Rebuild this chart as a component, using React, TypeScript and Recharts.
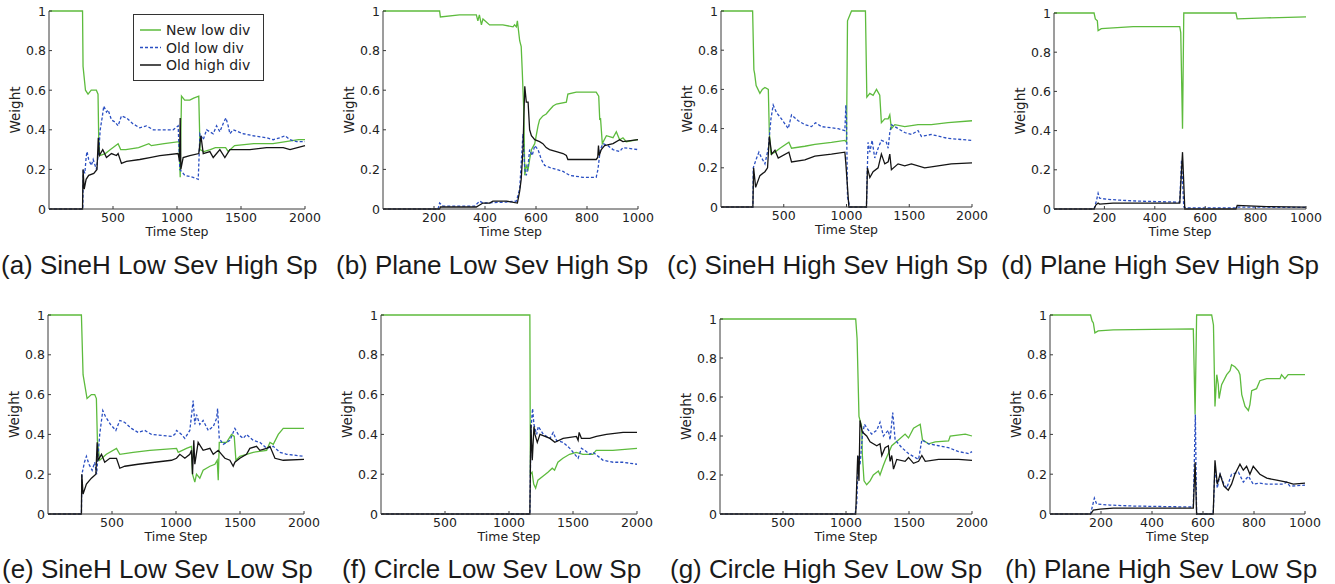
import React from "react";
import { LineChart, Line, XAxis, YAxis } from "recharts";

type Pt = [number, number];

const GREEN = "#5dbb3d";
const BLUE = "#2a4fc2";
const BLACK = "#141414";
const AXIS = "#3a3a3a";
const TICK_FONT = "'DejaVu Sans', sans-serif";

const Y_TICKS = [0, 0.2, 0.4, 0.6, 0.8, 1];
const X_TICKS_2000 = [500, 1000, 1500, 2000];
const X_TICKS_1000 = [200, 400, 600, 800, 1000];

const SERIES_NAMES = ["New low div", "Old low div", "Old high div"];

// (a) SineH Low Sev High Sp
const A_NEW: Pt[] = [[0,1],[262,1],[266,0.72],[285,0.6],[305,0.58],[330,0.6],[370,0.6],[383,0.58],[388,0.37],[396,0.27],[440,0.28],[480,0.3],[540,0.33],[560,0.3],[600,0.3],[700,0.31],[780,0.33],[800,0.32],[900,0.33],[1015,0.34],[1025,0.16],[1035,0.57],[1060,0.55],[1100,0.55],[1130,0.56],[1170,0.57],[1180,0.3],[1210,0.29],[1260,0.3],[1300,0.31],[1380,0.31],[1400,0.29],[1450,0.32],[1600,0.33],[1750,0.33],[1850,0.34],[1950,0.35],[2000,0.35]];
const A_OLD_LOW: Pt[] = [[0,0],[264,0],[268,0.2],[280,0.18],[290,0.26],[297,0.29],[310,0.25],[331,0.22],[345,0.25],[370,0.2],[390,0.3],[400,0.4],[415,0.46],[428,0.52],[449,0.49],[462,0.5],[488,0.45],[514,0.44],[540,0.42],[566,0.47],[605,0.46],[657,0.43],[709,0.41],[761,0.42],[814,0.4],[970,0.4],[1009,0.42],[1022,0.2],[1061,0.17],[1126,0.16],[1166,0.15],[1179,0.38],[1205,0.35],[1231,0.4],[1283,0.38],[1309,0.42],[1335,0.39],[1366,0.44],[1382,0.46],[1400,0.42],[1413,0.38],[1439,0.4],[1518,0.38],[1596,0.37],[1700,0.36],[1752,0.35],[1804,0.36],[1844,0.37],[1883,0.35],[1935,0.34],[2000,0.34]];
const A_OLD_HIGH: Pt[] = [[0,0],[262,0],[266,0.2],[275,0.1],[290,0.15],[310,0.17],[350,0.18],[375,0.2],[385,0.36],[393,0.27],[420,0.3],[449,0.26],[488,0.28],[527,0.27],[540,0.28],[566,0.23],[605,0.24],[709,0.25],[788,0.26],[866,0.27],[1009,0.28],[1020,0.24],[1025,0.46],[1030,0.2],[1048,0.26],[1100,0.27],[1170,0.28],[1187,0.37],[1205,0.28],[1257,0.29],[1283,0.26],[1335,0.3],[1374,0.26],[1413,0.3],[1570,0.3],[1700,0.31],[1830,0.31],[1883,0.3],[2000,0.32]];

// (b) Plane Low Sev High Sp
const B_NEW: Pt[] = [[0,1],[222,1],[225,0.97],[300,0.98],[366,0.98],[372,0.95],[378,0.98],[386,0.93],[392,0.96],[418,0.93],[470,0.93],[510,0.92],[516,0.93],[523,0.92],[527,0.95],[536,0.85],[542,0.82],[546,0.7],[552,0.5],[556,0.17],[562,0.22],[569,0.2],[575,0.25],[582,0.3],[595,0.33],[608,0.42],[614,0.45],[627,0.47],[640,0.48],[653,0.5],[667,0.52],[680,0.53],[719,0.54],[725,0.58],[758,0.59],[836,0.59],[846,0.57],[850,0.45],[853,0.46],[860,0.33],[876,0.37],[902,0.36],[915,0.39],[928,0.35],[941,0.36],[954,0.34],[1000,0.35]];
const B_OLD_LOW: Pt[] = [[0,0],[216,0],[222,0.03],[235,0.015],[360,0.015],[379,0.04],[392,0.03],[484,0.035],[523,0.04],[536,0.1],[549,0.38],[556,0.2],[562,0.17],[569,0.22],[575,0.3],[585,0.27],[595,0.32],[608,0.3],[621,0.25],[634,0.22],[653,0.21],[680,0.2],[706,0.19],[732,0.17],[784,0.16],[836,0.16],[843,0.2],[852,0.3],[863,0.33],[882,0.32],[902,0.3],[928,0.29],[941,0.31],[1000,0.3]];
const B_OLD_HIGH: Pt[] = [[0,0],[222,0],[225,0.01],[366,0.01],[379,0.02],[392,0.03],[418,0.03],[431,0.04],[484,0.04],[527,0.03],[536,0.09],[542,0.15],[549,0.3],[552,0.45],[556,0.62],[562,0.54],[569,0.54],[575,0.4],[582,0.37],[595,0.35],[614,0.34],[627,0.33],[640,0.31],[653,0.3],[680,0.29],[706,0.28],[719,0.27],[725,0.25],[836,0.25],[842,0.26],[845,0.32],[848,0.27],[856,0.3],[869,0.32],[902,0.33],[928,0.35],[941,0.34],[1000,0.35]];

// (c) SineH High Sev High Sp
const C_NEW: Pt[] = [[0,1],[252,1],[262,0.7],[268,0.68],[280,0.62],[310,0.58],[329,0.6],[350,0.61],[377,0.6],[385,0.38],[398,0.27],[430,0.28],[470,0.3],[541,0.33],[562,0.3],[668,0.31],[748,0.32],[880,0.33],[987,0.34],[1000,0.33],[1008,0.95],[1040,1],[1151,1],[1162,0.56],[1186,0.58],[1212,0.57],[1239,0.6],[1265,0.57],[1278,0.43],[1305,0.45],[1332,0.45],[1345,0.47],[1358,0.4],[1385,0.42],[1464,0.41],[1570,0.42],[1676,0.42],[1809,0.43],[2000,0.44]];
const C_OLD_LOW: Pt[] = [[0,0],[254,0],[257,0.2],[284,0.25],[302,0.28],[324,0.25],[350,0.22],[377,0.3],[398,0.45],[416,0.52],[443,0.48],[470,0.46],[536,0.4],[562,0.47],[615,0.44],[668,0.42],[721,0.41],[753,0.43],[801,0.41],[933,0.4],[987,0.39],[995,0.52],[1000,0.45],[1008,0.05],[1027,0],[1159,0],[1165,0.17],[1172,0.33],[1186,0.28],[1204,0.34],[1225,0.25],[1252,0.3],[1278,0.34],[1318,0.33],[1332,0.3],[1345,0.38],[1358,0.42],[1411,0.4],[1464,0.38],[1517,0.37],[1570,0.39],[1597,0.36],[1676,0.37],[1809,0.35],[2000,0.34]];
const C_OLD_HIGH: Pt[] = [[0,0],[254,0],[260,0.2],[276,0.1],[310,0.16],[350,0.18],[371,0.2],[385,0.36],[404,0.27],[430,0.29],[456,0.25],[541,0.28],[562,0.23],[668,0.24],[748,0.26],[880,0.27],[987,0.28],[995,0.22],[1019,0],[1159,0],[1167,0.2],[1186,0.15],[1212,0.18],[1252,0.2],[1278,0.27],[1305,0.22],[1332,0.23],[1345,0.27],[1358,0.19],[1411,0.22],[1464,0.21],[1517,0.22],[1623,0.2],[1729,0.21],[1835,0.22],[2000,0.225]];

// (d) Plane High Sev High Sp
const D_NEW: Pt[] = [[0,1],[159,1],[164,0.97],[172,0.96],[175,0.91],[188,0.92],[251,0.925],[314,0.93],[499,0.93],[503,0.9],[510,0.41],[515,1],[722,1],[727,0.97],[843,0.975],[1000,0.98]];
const D_OLD_LOW: Pt[] = [[0,0],[159,0],[168,0.04],[175,0.08],[181,0.055],[208,0.05],[261,0.045],[340,0.04],[499,0.035],[506,0.25],[515,0.01],[530,0.005],[722,0.005],[727,0.01],[1000,0.008]];
const D_OLD_HIGH: Pt[] = [[0,0],[159,0],[166,0.02],[175,0.03],[181,0.025],[234,0.03],[499,0.03],[510,0.29],[519,0],[722,0],[727,0.018],[843,0.012],[1000,0.01]];

// (e) SineH Low Sev Low Sp
const E_NEW: Pt[] = [[0,1],[261,1],[274,0.7],[305,0.58],[339,0.6],[365,0.6],[378,0.58],[386,0.37],[404,0.27],[456,0.3],[535,0.33],[561,0.3],[665,0.31],[796,0.32],[1004,0.33],[1017,0.31],[1082,0.33],[1121,0.34],[1129,0.2],[1147,0.16],[1160,0.2],[1186,0.18],[1212,0.22],[1265,0.24],[1304,0.25],[1322,0.27],[1330,0.17],[1338,0.36],[1395,0.36],[1434,0.4],[1455,0.39],[1468,0.27],[1499,0.29],[1551,0.3],[1603,0.31],[1708,0.32],[1734,0.36],[1760,0.35],[1799,0.4],[1838,0.43],[2000,0.43]];
const E_OLD_LOW: Pt[] = [[0,0],[261,0],[265,0.2],[285,0.26],[300,0.29],[320,0.25],[345,0.22],[365,0.26],[380,0.2],[392,0.3],[404,0.4],[428,0.52],[449,0.49],[488,0.45],[530,0.42],[561,0.47],[600,0.46],[652,0.43],[704,0.41],[756,0.42],[808,0.4],[965,0.39],[991,0.4],[1004,0.42],[1043,0.4],[1069,0.38],[1108,0.42],[1134,0.57],[1147,0.45],[1160,0.5],[1186,0.45],[1212,0.47],[1252,0.42],[1291,0.44],[1317,0.48],[1325,0.53],[1338,0.38],[1369,0.35],[1421,0.37],[1460,0.43],[1486,0.4],[1525,0.38],[1551,0.4],[1603,0.37],[1655,0.36],[1708,0.33],[1760,0.34],[1812,0.31],[1864,0.3],[2000,0.29]];
const E_OLD_HIGH: Pt[] = [[0,0],[261,0],[264,0.2],[274,0.1],[300,0.15],[339,0.18],[374,0.2],[384,0.36],[391,0.27],[418,0.3],[443,0.26],[483,0.28],[535,0.28],[561,0.23],[600,0.24],[704,0.25],[834,0.26],[965,0.27],[1004,0.28],[1030,0.3],[1069,0.28],[1108,0.3],[1121,0.32],[1129,0.2],[1139,0.37],[1147,0.25],[1173,0.36],[1212,0.32],[1265,0.33],[1291,0.3],[1330,0.32],[1356,0.3],[1382,0.28],[1421,0.27],[1447,0.24],[1460,0.26],[1499,0.28],[1551,0.3],[1577,0.33],[1629,0.34],[1655,0.32],[1708,0.33],[1734,0.34],[1773,0.28],[1838,0.27],[2000,0.275]];

// (f) Circle Low Sev Low Sp
const F_NEW: Pt[] = [[0,1],[1163,1],[1167,0.2],[1180,0.21],[1193,0.15],[1208,0.13],[1226,0.17],[1265,0.19],[1304,0.21],[1338,0.23],[1356,0.22],[1382,0.26],[1421,0.28],[1473,0.3],[1525,0.31],[1577,0.3],[1655,0.3],[1681,0.32],[1811,0.32],[2000,0.33]];
const F_OLD_LOW: Pt[] = [[0,0],[1163,0],[1171,0.42],[1184,0.53],[1195,0.45],[1216,0.4],[1229,0.44],[1268,0.4],[1320,0.38],[1345,0.41],[1371,0.37],[1423,0.36],[1475,0.33],[1514,0.3],[1540,0.28],[1566,0.33],[1592,0.32],[1631,0.3],[1657,0.31],[1735,0.27],[1813,0.26],[1891,0.26],[2000,0.25]];
const F_OLD_HIGH: Pt[] = [[0,0],[1163,0],[1171,0.45],[1182,0.27],[1195,0.44],[1203,0.4],[1221,0.36],[1242,0.4],[1320,0.38],[1358,0.36],[1423,0.38],[1527,0.39],[1540,0.37],[1548,0.41],[1566,0.38],[1631,0.38],[1683,0.39],[1761,0.4],[1891,0.41],[2000,0.41]];

// (g) Circle High Sev Low Sp
const G_NEW: Pt[] = [[0,1],[1077,1],[1088,0.9],[1103,0.5],[1124,0.45],[1130,0.3],[1143,0.17],[1164,0.15],[1191,0.17],[1217,0.2],[1257,0.22],[1270,0.2],[1297,0.25],[1315,0.28],[1336,0.31],[1363,0.35],[1416,0.38],[1469,0.41],[1496,0.39],[1536,0.44],[1589,0.46],[1607,0.38],[1655,0.36],[1708,0.37],[1814,0.375],[1827,0.4],[1947,0.41],[2000,0.4]];
const G_OLD_LOW: Pt[] = [[0,0],[1072,0],[1085,0.05],[1098,0.3],[1111,0.25],[1130,0.4],[1146,0.46],[1178,0.43],[1204,0.41],[1244,0.43],[1270,0.47],[1297,0.4],[1336,0.43],[1350,0.38],[1371,0.52],[1390,0.38],[1443,0.34],[1496,0.31],[1549,0.29],[1576,0.28],[1602,0.38],[1655,0.36],[1735,0.35],[1814,0.34],[1894,0.32],[1974,0.31],[2000,0.32]];
const G_OLD_HIGH: Pt[] = [[0,0],[1077,0],[1093,0.3],[1103,0.17],[1111,0.48],[1130,0.42],[1164,0.4],[1191,0.37],[1244,0.35],[1270,0.36],[1284,0.3],[1310,0.34],[1336,0.35],[1350,0.27],[1363,0.3],[1377,0.23],[1403,0.28],[1469,0.27],[1496,0.29],[1536,0.26],[1576,0.27],[1602,0.3],[1629,0.27],[1735,0.28],[1894,0.28],[2000,0.275]];

// (h) Plane High Sev Low Sp
const H_NEW: Pt[] = [[0,1],[159,1],[165,0.97],[170,0.96],[176,0.91],[189,0.92],[248,0.925],[562,0.93],[569,0.5],[575,1],[634,1],[641,0.95],[647,0.54],[654,0.7],[660,0.65],[663,0.58],[673,0.65],[693,0.7],[706,0.72],[712,0.75],[725,0.74],[739,0.72],[745,0.7],[752,0.6],[765,0.54],[778,0.52],[784,0.55],[791,0.62],[810,0.63],[823,0.67],[850,0.68],[902,0.68],[908,0.7],[921,0.68],[934,0.7],[1000,0.7]];
const H_OLD_LOW: Pt[] = [[0,0],[159,0],[174,0.08],[183,0.05],[235,0.045],[327,0.04],[562,0.035],[570,0.5],[575,0],[640,0],[647,0.24],[656,0.13],[667,0.2],[682,0.15],[693,0.13],[712,0.2],[739,0.21],[758,0.16],[778,0.19],[797,0.15],[823,0.155],[850,0.15],[915,0.15],[928,0.16],[941,0.14],[1000,0.145]];
const H_OLD_HIGH: Pt[] = [[0,0],[159,0],[170,0.02],[196,0.025],[248,0.03],[562,0.03],[569,0.26],[575,0],[640,0],[647,0.27],[656,0.15],[667,0.2],[682,0.14],[699,0.12],[712,0.15],[725,0.2],[745,0.25],[758,0.22],[771,0.24],[784,0.2],[797,0.24],[823,0.2],[850,0.18],[889,0.17],[928,0.16],[954,0.15],[1000,0.155]];

const CAPTIONS = [
  "(a) SineH Low Sev High Sp",
  "(b) Plane Low Sev High Sp",
  "(c) SineH High Sev High Sp",
  "(d) Plane High Sev High Sp",
  "(e) SineH Low Sev Low Sp",
  "(f) Circle Low Sev Low Sp",
  "(g) Circle High Sev Low Sp",
  "(h) Plane High Sev Low Sp",
];

const PANELS = [
  { box: [49, 11, 305, 209], xMax: 2000, ticks: X_TICKS_2000, lines: [A_NEW, A_OLD_LOW, A_OLD_HIGH], cap: [1, 252] },
  { box: [383, 11, 638, 209], xMax: 1000, ticks: X_TICKS_1000, lines: [B_NEW, B_OLD_LOW, B_OLD_HIGH], cap: [336, 252] },
  { box: [721, 11, 972, 207], xMax: 2000, ticks: X_TICKS_2000, lines: [C_NEW, C_OLD_LOW, C_OLD_HIGH], cap: [667, 252] },
  { box: [1054, 13, 1306, 209], xMax: 1000, ticks: X_TICKS_1000, lines: [D_NEW, D_OLD_LOW, D_OLD_HIGH], cap: [1001, 252] },
  { box: [48, 315, 304, 514], xMax: 2000, ticks: X_TICKS_2000, lines: [E_NEW, E_OLD_LOW, E_OLD_HIGH], cap: [2, 556] },
  { box: [381, 315, 637, 514], xMax: 2000, ticks: X_TICKS_2000, lines: [F_NEW, F_OLD_LOW, F_OLD_HIGH], cap: [342, 556] },
  { box: [720, 319, 972, 514], xMax: 2000, ticks: X_TICKS_2000, lines: [G_NEW, G_OLD_LOW, G_OLD_HIGH], cap: [670, 556] },
  { box: [1050, 315, 1305, 514], xMax: 1000, ticks: X_TICKS_1000, lines: [H_NEW, H_OLD_LOW, H_OLD_HIGH], cap: [1005, 556] },
];

const LINE_STYLES = [
  { stroke: GREEN, dash: undefined },
  { stroke: BLUE, dash: "3 2" },
  { stroke: BLACK, dash: undefined },
];

const AX_W = 50;
const AX_H = 50;
const M_TOP = 10;
const M_RIGHT = 28;

const toRows = (pts: Pt[]) => pts.map(([x, y]) => ({ x, y }));

function XTick(props: any) {
  const { x, y, payload } = props;
  return (
    <g>
      <line x1={x} x2={x} y1={y} y2={y - 3} stroke={AXIS} />
      <text x={x} y={y + 12.5} textAnchor="middle" fontSize={12.5} fontFamily={TICK_FONT} fill="#222">
        {payload.value}
      </text>
    </g>
  );
}

function YTick(props: any) {
  const { x, y, payload } = props;
  return (
    <g>
      <line x1={x} x2={x + 3} y1={y} y2={y} stroke={AXIS} />
      <text x={x - 3} y={y} dy="0.36em" textAnchor="end" fontSize={12.5} fontFamily={TICK_FONT} fill="#222">
        {payload.value}
      </text>
    </g>
  );
}

function Title({ tx, ty, text, rotate }: { tx: number; ty: number; text: string; rotate?: boolean }) {
  return (
    <text
      x={tx}
      y={ty}
      dy="0.36em"
      textAnchor="middle"
      fontSize={rotate ? 13.5 : 12.5}
      fontFamily={TICK_FONT}
      fill="#222"
      transform={rotate ? `rotate(-90 ${tx} ${ty})` : undefined}
    >
      {text}
    </text>
  );
}

function Panel({ p }: { p: (typeof PANELS)[number] }) {
  const [l, t, r, b] = p.box;
  const pw = r - l;
  const ph = b - t;
  return (
    <div style={{ position: "absolute", left: l - AX_W, top: t - M_TOP }}>
      <LineChart
        width={pw + AX_W + M_RIGHT}
        height={ph + M_TOP + AX_H}
        margin={{ top: M_TOP, right: M_RIGHT, left: 0, bottom: 0 }}
      >
        <XAxis
          type="number"
          dataKey="x"
          domain={[0, p.xMax]}
          ticks={p.ticks}
          interval={0}
          height={AX_H}
          tickSize={0}
          tickMargin={0}
          tick={<XTick />}
          axisLine={{ stroke: AXIS }}
          label={<Title tx={AX_W + pw / 2} ty={M_TOP + ph + 22} text="Time Step" />}
        />
        <YAxis
          type="number"
          domain={[0, 1]}
          ticks={Y_TICKS}
          interval={0}
          width={AX_W}
          tickSize={0}
          tickMargin={0}
          tick={<YTick />}
          axisLine={{ stroke: AXIS }}
          label={<Title tx={AX_W - 34} ty={M_TOP + ph / 2} text="Weight" rotate />}
        />
        {p.lines.map((pts, i) => (
          <Line
            key={SERIES_NAMES[i]}
            name={SERIES_NAMES[i]}
            data={toRows(pts)}
            dataKey="y"
            type="linear"
            stroke={LINE_STYLES[i].stroke}
            strokeDasharray={LINE_STYLES[i].dash}
            strokeWidth={1.3}
            dot={false}
            activeDot={false}
            isAnimationActive={false}
          />
        ))}
      </LineChart>
    </div>
  );
}

function LegendBox() {
  const rows = [30, 47.5, 65];
  return (
    <svg
      width={132}
      height={68}
      style={{ position: "absolute", left: 133, top: 14 }}
    >
      <rect x={0.5} y={0.5} width={130} height={66} fill="#fff" stroke="#333" />
      {SERIES_NAMES.map((name, i) => (
        <g key={name}>
          <line
            x1={7}
            x2={28}
            y1={rows[i] - 14}
            y2={rows[i] - 14}
            stroke={LINE_STYLES[i].stroke}
            strokeDasharray={LINE_STYLES[i].dash}
            strokeWidth={1.5}
          />
          <text x={33} y={rows[i] - 14} dy="0.36em" fontSize={14} fontFamily={TICK_FONT} fill="#222">
            {name}
          </text>
        </g>
      ))}
    </svg>
  );
}

export default function App() {
  return (
    <div style={{ position: "absolute", left: 0, top: 0, width: 1335, height: 584, background: "#fff", overflow: "hidden" }}>
      {PANELS.map((p, i) => (
        <Panel key={i} p={p} />
      ))}
      <LegendBox />
      {PANELS.map((p, i) => (
        <div
          key={CAPTIONS[i]}
          style={{
            position: "absolute",
            left: p.cap[0],
            top: p.cap[1],
            fontFamily: "'Liberation Sans', Arial, sans-serif",
            fontSize: 26,
            lineHeight: "26px",
            whiteSpace: "nowrap",
            color: "#1a1a1a",
          }}
        >
          {CAPTIONS[i]}
        </div>
      ))}
    </div>
  );
}
